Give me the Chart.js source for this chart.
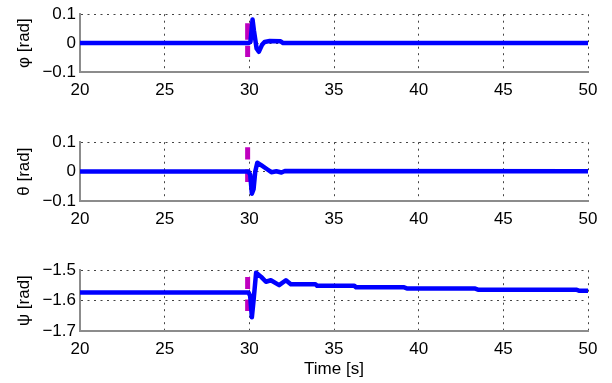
<!DOCTYPE html>
<html>
<head>
<meta charset="utf-8">
<script src="https://cdn.jsdelivr.net/npm/chart.js@4.4.1/dist/chart.umd.min.js"></script>
<style>
  html, body { margin: 0; padding: 0; background: #fff; }
  #wrap { position: relative; width: 612px; height: 383px; }
  canvas { position: absolute; left: 0; }
</style>
</head>
<body>
<div id="wrap">
  <canvas id="phiChart" width="612" height="128" style="top:0"></canvas>
  <canvas id="thetaChart" width="612" height="128" style="top:128px"></canvas>
  <canvas id="psiChart" width="612" height="127" style="top:256px"></canvas>
</div>
<script>
// time axis
const timeMin = 20;
const timeMax = 50;
const timeStep = 5;

// phi (roll) response
const phiTime = [20, 29.95, 30.07, 30.19, 30.27, 30.43, 30.56, 30.75, 30.9, 31.2, 31.85, 32.0, 50];
const phiVals = [0, 0, 0.005, 0.082, 0.044, -0.019, -0.03, -0.006, 0.004, 0.007, 0.006, 0, 0];

// theta (pitch) response
const thetaTime = [20, 29.95, 30.05, 30.15, 30.25, 30.35, 30.47, 30.7, 31.05, 31.3, 31.6, 31.9, 32.1, 50];
const thetaVals = [0, 0, -0.01, -0.075, -0.06, 0.0, 0.03, 0.022, 0.008, -0.002, 0.001, -0.003, 0.002, 0.001];

// psi (yaw) response
const psiTime = [20, 29.95, 30.05, 30.15, 30.25, 30.4, 30.7, 30.98, 31.27, 31.76, 32.16, 32.45, 33.9, 34.0, 36.2, 36.3, 39.1, 39.3, 43.3, 43.5, 49.3, 49.5, 50];
const psiVals = [-1.573, -1.573, -1.585, -1.655, -1.6, -1.508, -1.522, -1.538, -1.533, -1.549, -1.533, -1.546, -1.546, -1.551, -1.551, -1.556, -1.556, -1.560, -1.560, -1.564, -1.564, -1.568, -1.568];

// disturbance marker (magenta dashed)
const markerTime = 29.9;
const phiMarker = [0.069, -0.048];
const thetaMarker = [0.083, -0.038];
const psiMarker = [-1.522, -1.634];

const FONT = "'Liberation Sans', Arial, sans-serif";
const DOTS = [2, 4.5];

function fmt(v) {
  const s = Number(Math.abs(v).toFixed(2)).toString();
  return v < -1e-9 ? "\u2212" + s : s;
}

function makeChart(id, opts) {
  const ctx = document.getElementById(id).getContext("2d");
  const line = opts.time.map((t, i) => ({ x: t, y: opts.vals[i] }));
  const marker = opts.marker.map((y) => ({ x: markerTime, y: y }));

  return new Chart(ctx, {
    type: "line",
    data: {
      datasets: [
        {
          data: line,
          borderColor: "#0000ff",
          borderWidth: 4.5,
          pointRadius: 0,
          tension: 0,
          borderJoinStyle: "round",
          borderCapStyle: "round",
        },
        {
          data: marker,
          borderColor: "#bf00bf",
          borderWidth: 5,
          pointRadius: 0,
          borderDash: opts.dash,
          borderCapStyle: "butt",
        },
      ],
    },
    options: {
      responsive: false,
      animation: false,
      devicePixelRatio: 1,
      layout: { padding: { top: 14, right: 24, left: 0, bottom: 0 } },
      plugins: { legend: { display: false }, tooltip: { enabled: false } },
      scales: {
        x: {
          type: "linear",
          min: timeMin,
          max: timeMax,
          afterFit: (s) => { s.height = opts.xHeight; },
          ticks: {
            stepSize: timeStep,
            color: "#000",
            padding: 8,
            maxRotation: 0,
            font: { family: FONT, size: 17 },
          },
          grid: { color: "#444", lineWidth: 1, drawTicks: false },
          border: { color: "#8c8c8c", width: 2, dash: DOTS },
          title: {
            display: !!opts.xTitle,
            text: opts.xTitle || "",
            color: "#000",
            font: { family: FONT, size: 17 },
            padding: { top: 0, bottom: 3 },
          },
        },
        y: {
          min: opts.yMin,
          max: opts.yMax,
          afterFit: (s) => { s.width = 80; },
          ticks: {
            stepSize: 0.1,
            color: "#000",
            padding: 4,
            font: { family: FONT, size: 17 },
            callback: (v) => fmt(v),
          },
          grid: { color: "#444", lineWidth: 1, drawTicks: false },
          border: { color: "#8c8c8c", width: 2, dash: DOTS },
          title: {
            display: true,
            text: opts.yTitle,
            color: "#000",
            font: { family: FONT, size: 17 },
            padding: { top: 14, bottom: 0 },
          },
        },
      },
    },
  });
}

makeChart("phiChart", {
  time: phiTime, vals: phiVals, marker: phiMarker, dash: [16.5, 6],
  yMin: -0.1, yMax: 0.1, yTitle: "\u03c6 [rad]", xHeight: 56,
});
makeChart("thetaChart", {
  time: thetaTime, vals: thetaVals, marker: thetaMarker, dash: [12.4, 10],
  yMin: -0.1, yMax: 0.1, yTitle: "\u03b8 [rad]", xHeight: 55,
});
makeChart("psiChart", {
  time: psiTime, vals: psiVals, marker: psiMarker, dash: [12, 10.6],
  yMin: -1.7, yMax: -1.5, yTitle: "\u03c8 [rad]", xHeight: 52, xTitle: "Time [s]",
});
</script>
</body>
</html>
